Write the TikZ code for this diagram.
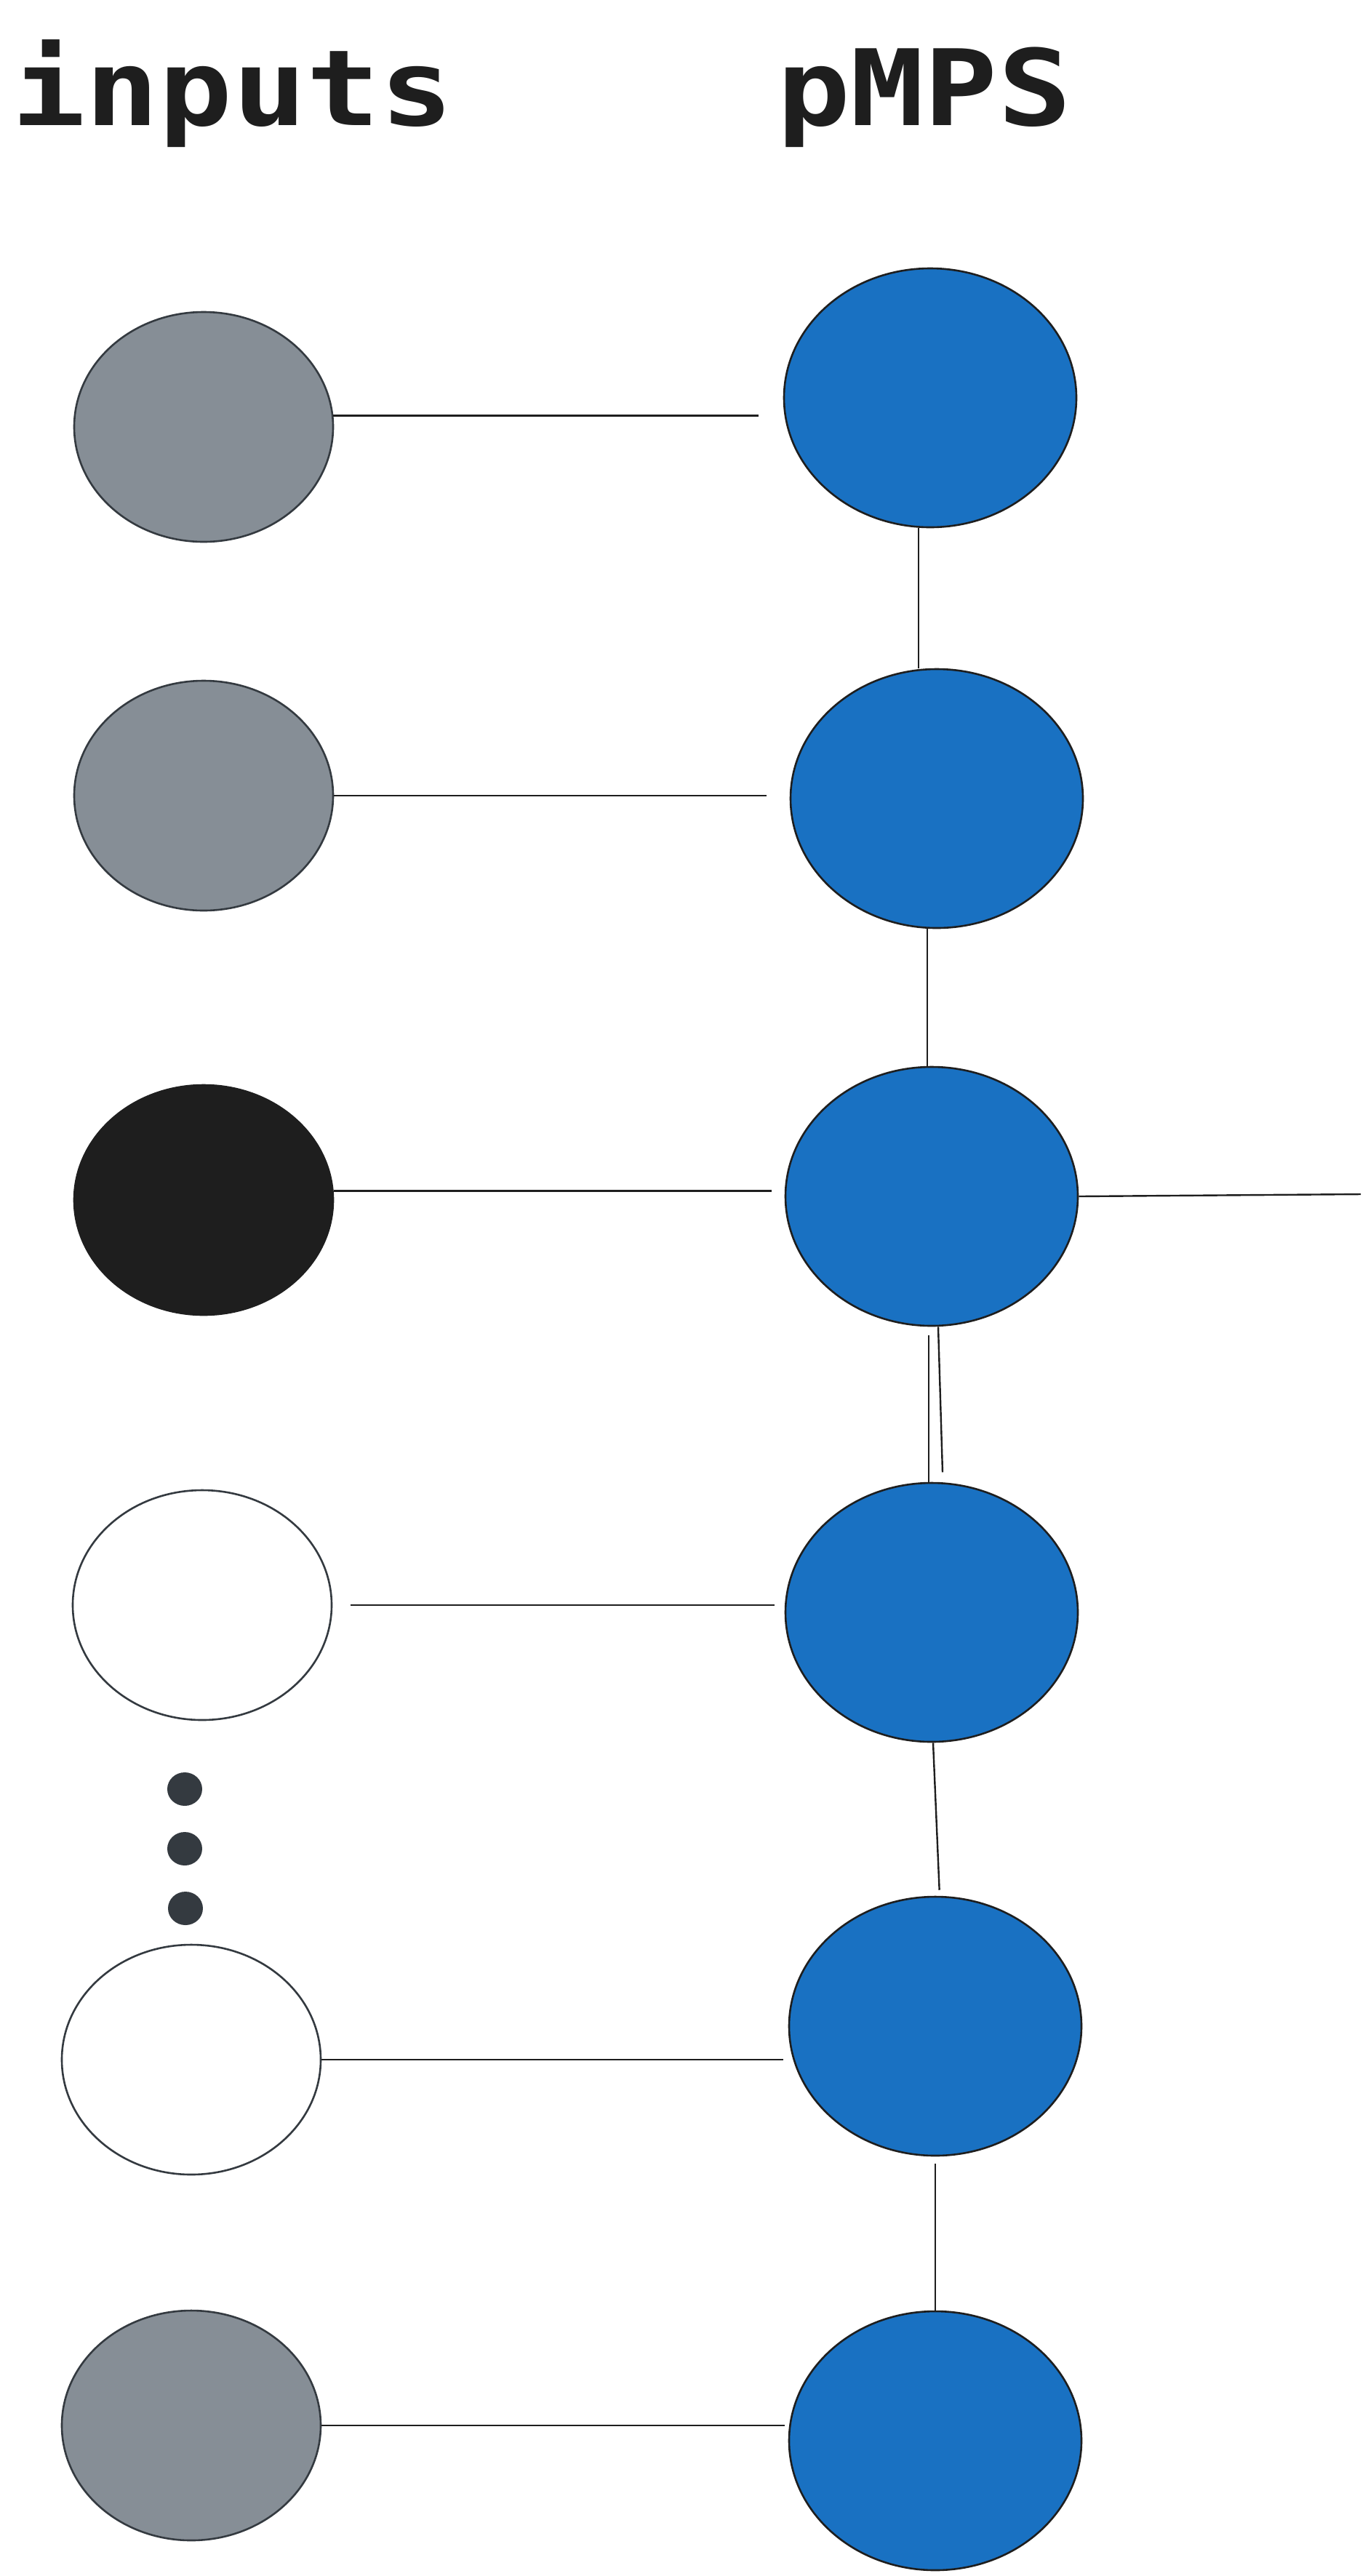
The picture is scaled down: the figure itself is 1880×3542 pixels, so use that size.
\documentclass[tikz,border=0pt]{standalone}
\usepackage{fontspec}
\setmonofont{DejaVu Sans Mono}
\usetikzlibrary{shapes.geometric}
\definecolor{grayfill}{HTML}{868E96}
\definecolor{bluefill}{HTML}{1971C2}
\definecolor{inkblack}{HTML}{1E1E1E}
\definecolor{darkgray}{HTML}{343A40}
\tikzset{
  inpt/.style={ellipse, draw=darkgray, line width=2.6pt, minimum width=356pt, minimum height=316pt, inner sep=0pt},
  mps/.style={ellipse, draw=inkblack, line width=2.6pt, fill=bluefill, minimum width=402pt, minimum height=356pt, inner sep=0pt},
  wire/.style={draw=inkblack, line width=2.4pt},
  dotmark/.style={ellipse, fill=darkgray, minimum width=48pt, minimum height=46pt, inner sep=0pt},
  title/.style={font=\ttfamily\bfseries\fontsize{145}{145}\selectfont, text=inkblack, anchor=base west, inner sep=0pt, xscale=1.16}
}
\begin{document}
\begin{tikzpicture}[x=1pt,y=-1pt]
\useasboundingbox (0,0) rectangle (1880,3542);
\node[title] (t1) at (16,172) {inputs};
\node[title] (t2) at (1068,172) {pMPS};
% inputs
\node[inpt, fill=grayfill] (l1) at (280,587) {};
\node[inpt, fill=grayfill] (l2) at (280,1094) {};
\node[inpt, fill=inkblack, draw=inkblack] (l3) at (280,1650) {};
\node[inpt, fill=white] (l4) at (278,2207) {};
\node[inpt, fill=white] (l5) at (263,2832) {};
\node[inpt, fill=grayfill] (l6) at (263,3335) {};
% dots
\node[dotmark] (d1) at (254,2460) {};
\node[dotmark] (d2) at (254,2542) {};
\node[dotmark] (d3) at (255,2624) {};
% pMPS
\node[mps] (r1) at (1279,547) {};
\node[mps] (r2) at (1288,1098) {};
\node[mps] (r3) at (1281,1645) {};
\node[mps] (r4) at (1281,2217) {};
\node[mps] (r5) at (1286,2786) {};
\node[mps] (r6) at (1286,3356) {};
\coordinate (out) at (1871,1642);
% horizontal wires
\draw[wire, shorten >=34pt] (l1.5) -- (l1.5 -| r1.west);
\draw[wire, shorten >=32pt] (l2.east) -- (l2.east -| r2.west);
\draw[wire, shorten >=18pt] (l3.4) -- (l3.4 -| r3.west);
\draw[wire, shorten <=25pt, shorten >=14pt] (l4.east) -- (l4.east -| r4.west);
\draw[wire, shorten >=7pt] (l5.east) -- (l5.east -| r5.west);
\draw[wire, shorten >=5pt] (l6.east) -- (l6.east -| r6.west);
\draw[wire] (r3.east) -- (out);
% chain wires
\draw[wire] ([xshift=-16pt]r1.south) -- ([xshift=-16pt]r1.south |- r2.north);
\draw[wire] ([xshift=-6pt]r3.north |- r2.south) -- ([xshift=-6pt]r3.north);
\draw[wire, shorten <=12pt] ([xshift=-4pt]r4.north |- r3.south) -- ([xshift=-4pt]r4.north);
\draw[wire] ([xshift=9pt]r3.south) -- ++(6,200);
\draw[wire, shorten >=8pt] ([xshift=2pt]r4.south) -- ([xshift=6pt]r5.north);
\draw[wire, shorten <=10pt] (r5.south) -- (r6.north);
\end{tikzpicture}
\end{document}
